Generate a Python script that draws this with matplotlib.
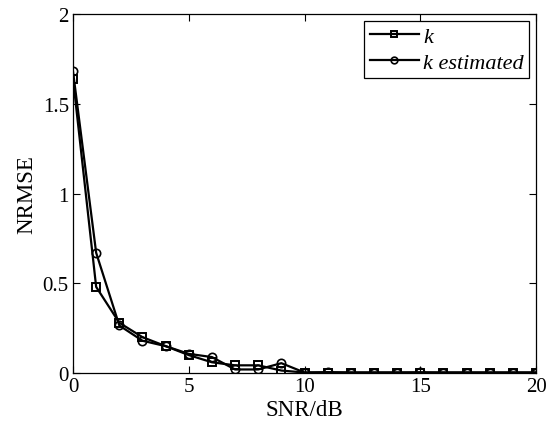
import numpy as np
import matplotlib
matplotlib.use("Agg")
import matplotlib.pyplot as plt

# NRMSE against SNR for the true and estimated k
snr_db = np.arange(0, 21)
nrmse_k = [1.64, 0.48, 0.28, 0.20, 0.15, 0.10, 0.06, 0.043, 0.043, 0.014,
           0.003, 0.003, 0.003, 0.003, 0.003, 0.003, 0.003, 0.003, 0.003, 0.003, 0.003]
nrmse_k_est = [1.68, 0.67, 0.265, 0.18, 0.15, 0.107, 0.089, 0.02, 0.02, 0.055,
               0.003, 0.005, 0.003, 0.003, 0.003, 0.004, 0.003, 0.003, 0.003, 0.003, 0.003]

plt.rcParams['font.family'] = ['Liberation Serif', 'DejaVu Serif']

fig = plt.figure(figsize=(5.51, 4.27), dpi=100)
ax = fig.add_axes([0.1325, 0.124, 0.8403, 0.8409])

ax.plot(snr_db, nrmse_k, '-s', color='black', lw=1.6, ms=6, mfc='none', mew=1.4, label='k')
ax.plot(snr_db, nrmse_k_est, '-o', color='black', lw=1.6, ms=6, mfc='none', mew=1.2,
        label='k estimated')

ax.set_xlim(0, 20)
ax.set_ylim(0, 2)
ax.set_xticks([0, 5, 10, 15, 20])
ax.set_yticks([0, 0.5, 1, 1.5, 2])
ax.set_yticklabels(['0', '0.5', '1', '1.5', '2'])
ax.tick_params(direction='in', top=True, right=True, length=5, width=0.8, labelsize=15, pad=3)
for s in ax.spines.values():
    s.set_linewidth(0.9)

ax.set_xlabel('SNR/dB', fontsize=16.5, labelpad=2)
ax.set_ylabel('NRMSE', fontsize=16.5, labelpad=4)

leg = ax.legend(loc='upper right', prop={'style': 'italic', 'size': 16},
                fancybox=False, edgecolor='black', framealpha=1,
                handlelength=2.2, borderaxespad=0.3, labelspacing=0.25,
                handletextpad=0.2, borderpad=0.25, markerscale=0.8)
leg.get_frame().set_linewidth(0.9)

plt.savefig('out.png', dpi=100)
